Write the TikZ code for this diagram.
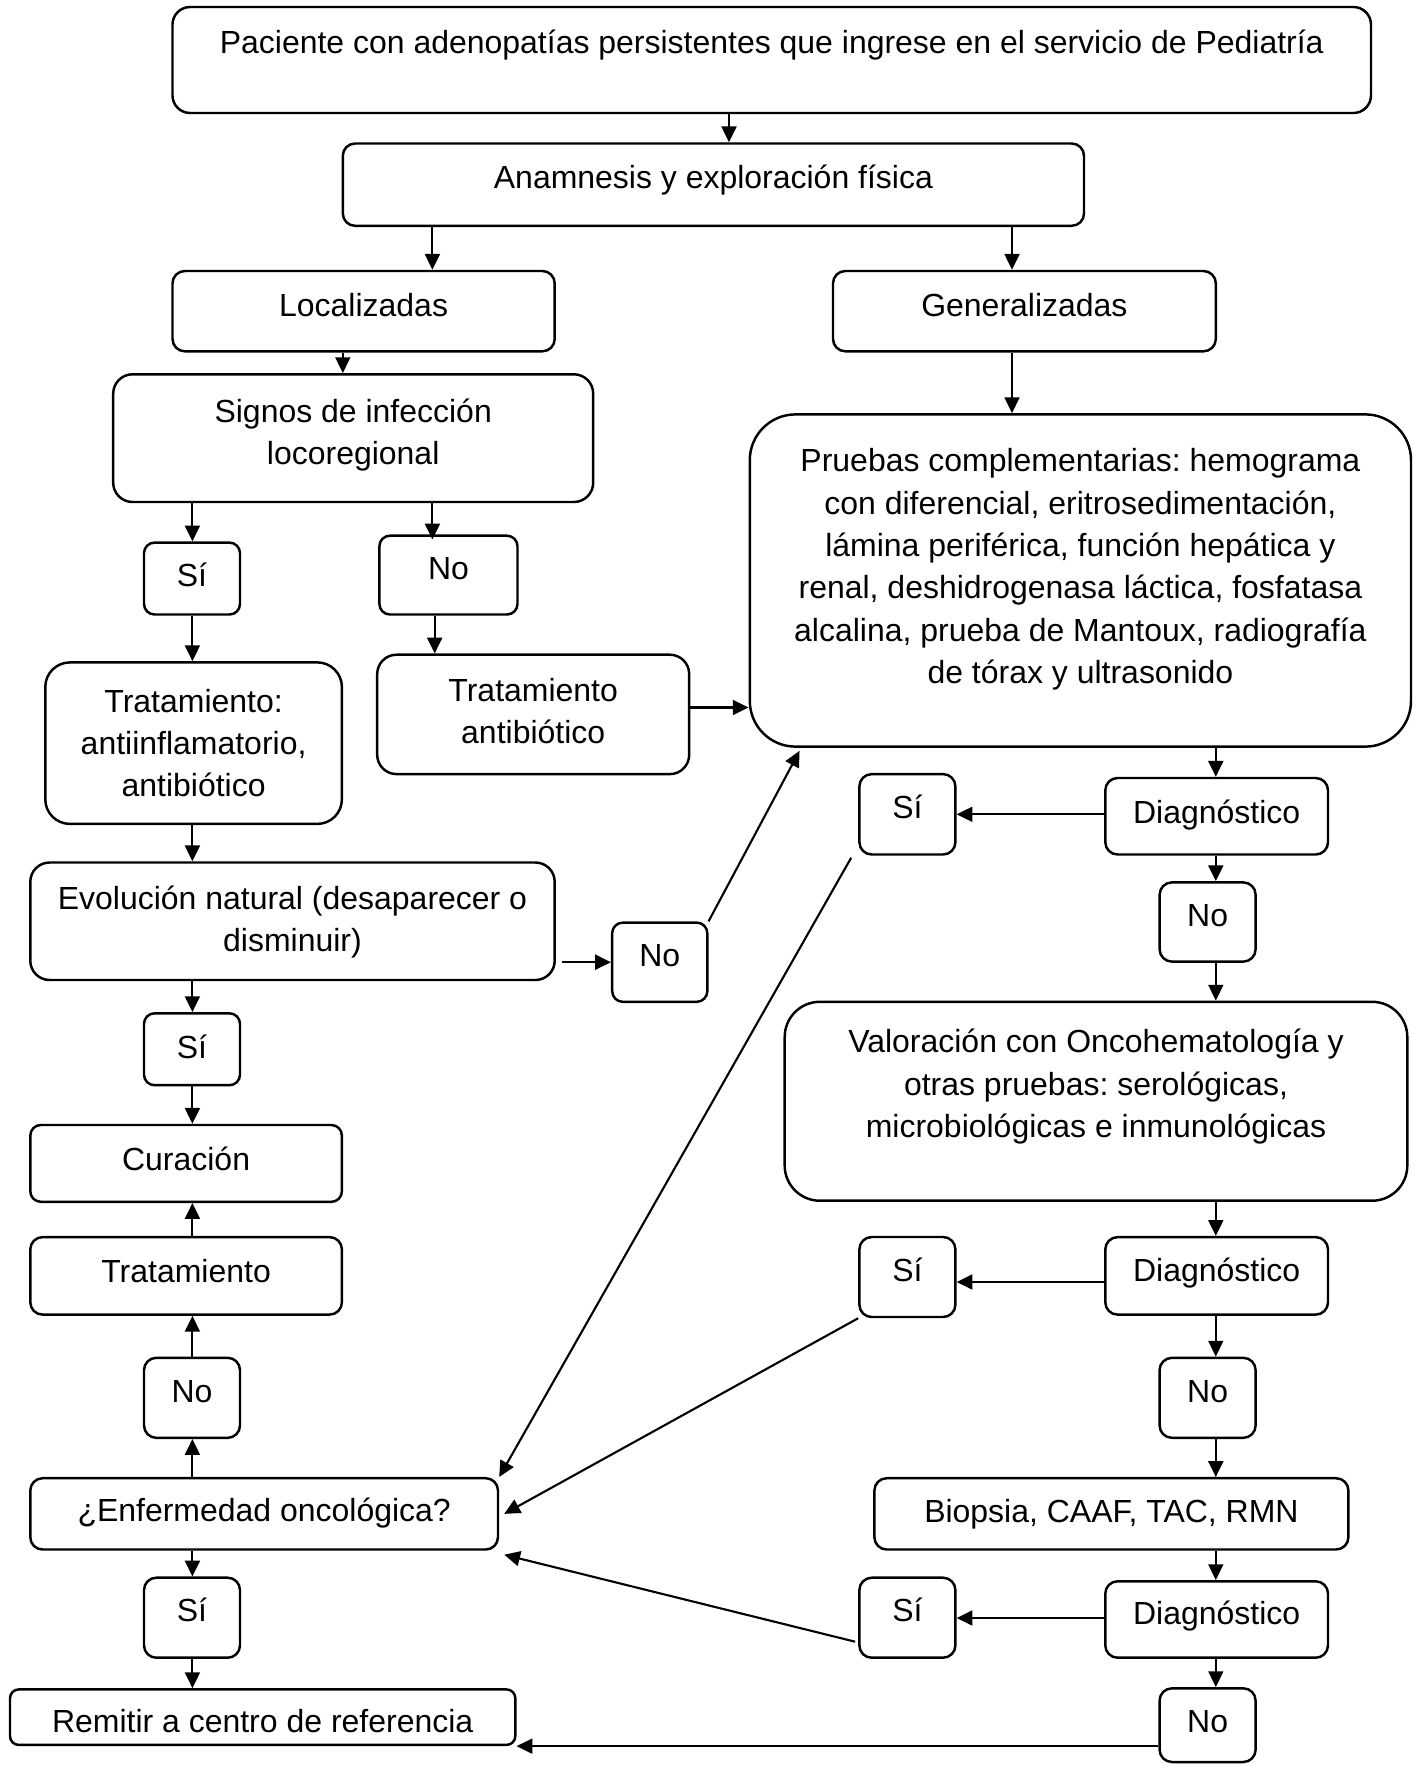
\documentclass[tikz,border=0pt]{standalone}
\usepackage{fontspec}
\setmainfont{Liberation Sans}
\usetikzlibrary{arrows.meta,fit,calc}
\frenchspacing
\begin{document}
\begin{tikzpicture}[x=0.02cm, y=-0.02cm,
  box/.style={draw, line width=1.4pt, rounded corners=#1, inner sep=0pt},
  box/.default=7pt,
  txt/.style={align=center, inner sep=0pt, font=\fontsize{18.2pt}{24.1pt}\selectfont,
    execute at begin node=\strut, execute at end node=\strut},
  arr/.style={-{Triangle[length=9pt,width=8.5pt]}, line width=1.2pt}]
\useasboundingbox (0,0) rectangle (1421,1765);

% lanes
\coordinate (xA) at (729,0);
\coordinate (xB) at (432.4,0);
\coordinate (xC) at (1012,0);
\coordinate (xD) at (342.8,0);
\coordinate (xE) at (192.4,0);
\coordinate (xF) at (434.7,0);
\coordinate (xG) at (1215.8,0);

% boxes
\node[box=10pt, fit={(172.5,7)(1371,113)}] (top) {};
\node[box, fit={(342.8,143.5)(1084,225.8)}] (anam) {};
\node[box, fit={(172.5,271)(554.7,351.3)}] (loc) {};
\node[box, fit={(833,271)(1215.8,351.3)}] (gen) {};
\node[box=11pt, fit={(113.2,374.3)(593.2,502)}] (sig) {};
\node[box=6pt, fit={(144,542.6)(240,614.5)}] (siA) {};
\node[box=6pt, fit={(379.4,535.7)(517.5,614.5)}] (noA) {};
\node[box=14pt, fit={(45.3,662.4)(341.9,823.9)}] (trat1) {};
\node[box=11pt, fit={(377.2,654.7)(689.2,774.1)}] (ta) {};
\node[box=26pt, fit={(749.8,414.4)(1411,746.6)}] (pru) {};
\node[box=11pt, fit={(30.3,862.5)(554.7,980)}] (evo) {};
\node[box=6pt, fit={(612.2,922.6)(707.3,1001.8)}] (noM) {};
\node[box=6pt, fit={(144,1013.3)(240,1085.2)}] (siB) {};
\node[box=6pt, fit={(30.3,1125)(341.9,1201.8)}] (cur) {};
\node[box, fit={(1105.3,778)(1328,854.5)}] (dg1) {};
\node[box, fit={(859.4,774.1)(955.4,854.5)}] (si1) {};
\node[box, fit={(1159.6,882.4)(1255.6,961.6)}] (no1) {};
\node[box=20pt, fit={(784.7,1001.8)(1407.3,1200.7)}] (val) {};
\node[box, fit={(30.3,1237.1)(341.9,1314.6)}] (trat2) {};
\node[box, fit={(144,1357.8)(240,1437.8)}] (noB) {};
\node[box, fit={(30.3,1478.2)(498,1549.5)}] (enf) {};
\node[box, fit={(144,1577.7)(240,1657.7)}] (siC) {};
\node[box=5pt, fit={(10,1689.4)(515.3,1744.9)}] (rem) {};
\node[box, fit={(1105.3,1237.1)(1328,1314.6)}] (dg2) {};
\node[box, fit={(859.4,1237)(955.4,1317)}] (si2) {};
\node[box, fit={(1159.6,1357.8)(1255.6,1437.8)}] (no2) {};
\node[box, fit={(874.4,1478.2)(1348.4,1549.5)}] (bio) {};
\node[box, fit={(1105.3,1581.3)(1328,1657.7)}] (dg3) {};
\node[box, fit={(859.4,1577.7)(955.4,1657.7)}] (si3) {};
\node[box, fit={(1159.6,1688.3)(1255.6,1762)}] (no3) {};

% texts
\node[txt] (topT) at (top.center |- 0,45.4) {Paciente con adenopatías persistentes que ingrese en el servicio de Pediatría};
\node[txt] (anamT) at (anam.center |- 0,180) {Anamnesis y exploración física};
\node[txt] (locT) at (loc.center |- 0,308) {Localizadas};
\node[txt] (genT) at (gen.center |- 0,308) {Generalizadas};
\node[txt] (sigT) at (sig.center |- 0,438) {Signos de infección\\locoregional};
\node[txt] (siAT) at (siA.center |- 0,578) {Sí};
\node[txt] (noAT) at (noA.center |- 0,571) {No};
\node[txt] (trat1T) at (trat1.center |- 0,749.2) {Tratamiento:\\antiinflamatorio,\\antibiótico};
\node[txt] (taT) at (ta.center |- 0,717) {Tratamiento\\antibiótico};
\node[txt] (pruT) at (pru.center |- 0,572.5) {Pruebas complementarias: hemograma\\con diferencial, eritrosedimentación,\\lámina periférica, función hepática y\\renal, deshidrogenasa láctica, fosfatasa\\alcalina, prueba de Mantoux, radiografía\\de tórax y ultrasonido};
\node[txt] (evoT) at (evo.center |- 0,925.2) {Evolución natural (desaparecer o\\disminuir)};
\node[txt] (noMT) at (noM.center |- 0,958) {No};
\node[txt] (siBT) at (siB.center |- 0,1050) {Sí};
\node[txt] (curT) at (cur.center |- 0,1161.6) {Curación};
\node[txt] (dg1T) at (dg1.center |- 0,814.6) {Diagnóstico};
\node[txt] (si1T) at (si1.center |- 0,810) {Sí};
\node[txt] (no1T) at (no1.center |- 0,918) {No};
\node[txt] (valT) at (val.center |- 0,1089.8) {Valoración con Oncohematología y\\otras pruebas: serológicas,\\microbiológicas e inmunológicas};
\node[txt] (trat2T) at (trat2.center |- 0,1273.7) {Tratamiento};
\node[txt] (noBT) at (noB.center |- 0,1394.4) {No};
\node[txt] (enfT) at (enf.center |- 0,1513.3) {¿Enfermedad oncológica?};
\node[txt] (siCT) at (siC.center |- 0,1613.5) {Sí};
\node[txt] (remT) at (rem.center |- 0,1724) {Remitir a centro de referencia};
\node[txt] (dg2T) at (dg2.center |- 0,1272.6) {Diagnóstico};
\node[txt] (si2T) at (si2.center |- 0,1272.6) {Sí};
\node[txt] (no2T) at (no2.center |- 0,1394.4) {No};
\node[txt] (bioT) at (bio.center |- 0,1514.4) {Biopsia, CAAF, TAC, RMN};
\node[txt] (dg3T) at (dg3.center |- 0,1616) {Diagnóstico};
\node[txt] (si3T) at (si3.center |- 0,1613.5) {Sí};
\node[txt] (no3T) at (no3.center |- 0,1724) {No};

% connectors
\draw[arr] (top.south -| xA) -- (anam.north -| xA);
\draw[arr] (anam.south -| xB) -- (loc.north -| xB);
\draw[arr] (anam.south -| xC) -- (gen.north -| xC);
\draw[arr] (loc.south -| xD) -- (sig.north -| xD);
\draw[arr] (gen.south -| xC) -- (pru.north -| xC);
\draw[arr] (sig.south -| xE) -- (siA.north -| xE);
\draw[arr] (sig.south -| xB) -- ($(noA.north -| xB)+(0,5)$);
\draw[arr] (siA.south -| xE) -- (trat1.north -| xE);
\draw[arr] (noA.south -| xF) -- (ta.north -| xF);
\draw[arr] (ta.east |- 0,707.5) -- (pru.west |- 0,707.5);
\draw[arr] (trat1.south -| xE) -- (evo.north -| xE);
\draw[arr] ($(evo.east |- noM.west)+(6,0)$) -- (noM.west);
\draw[arr] (noM.north east) -- ($(pru.south west)+(51,3)$);
\draw[arr] (evo.south -| xE) -- (siB.north -| xE);
\draw[arr] (siB.south -| xE) -- (cur.north -| xE);
\draw[arr] (trat2.north -| xE) -- (cur.south -| xE);
\draw[arr] (noB.north -| xE) -- (trat2.south -| xE);
\draw[arr] (enf.north -| xE) -- (noB.south -| xE);
\draw[arr] (enf.south -| xE) -- (siC.north -| xE);
\draw[arr] (siC.south -| xE) -- (rem.north -| xE);

\draw[arr] (pru.south -| xG) -- (dg1.north -| xG);
\draw[arr] (dg1.west |- si1.east) -- (si1.east);
\draw[arr] (dg1.south -| xG) -- (no1.north -| xG);
\draw[arr] (no1.south -| xG) -- (val.north -| xG);
\draw[arr] (val.south -| xG) -- (dg2.north -| xG);
\draw[arr] (dg2.west |- 0,1282) -- (si2.east |- 0,1282);
\draw[arr] (dg2.south -| xG) -- (no2.north -| xG);
\draw[arr] (no2.south -| xG) -- (bio.north -| xG);
\draw[arr] (bio.south -| xG) -- (dg3.north -| xG);
\draw[arr] (dg3.west |- 0,1618) -- (si3.east |- 0,1618);
\draw[arr] (dg3.south -| xG) -- (no3.north -| xG);
\draw[arr] (no3.west |- rem.south east) -- (rem.south east);

\draw[arr] ($(si1.south west)+(-7,2)$) -- (enf.north east);
\draw[arr] (si2.south west) -- ($(enf.east)+(5,0)$);
\draw[arr] ($(si3.west)+(-3,24)$) -- ($(enf.south east)+(5,4)$);
\end{tikzpicture}
\end{document}
